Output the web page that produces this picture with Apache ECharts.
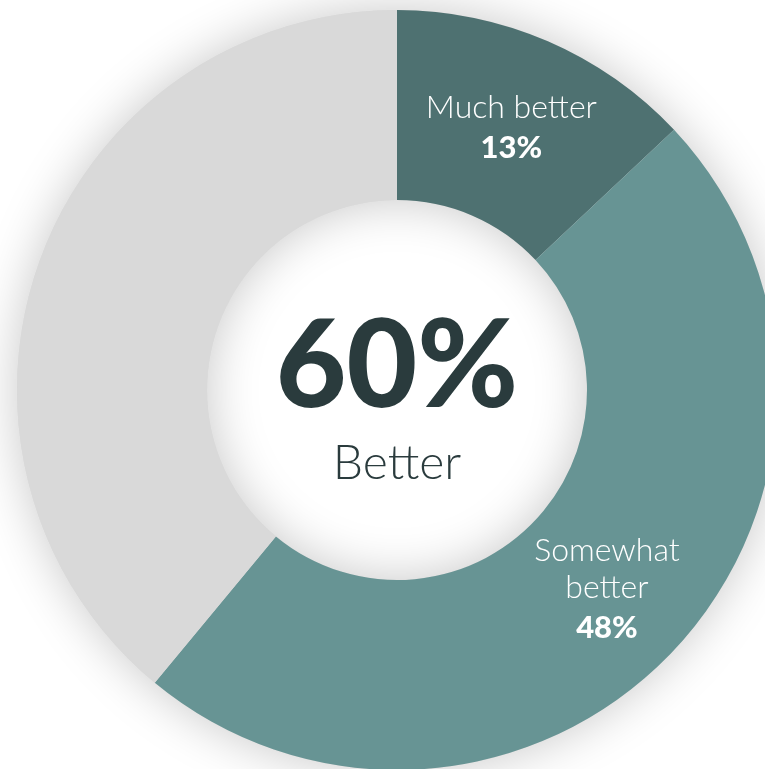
<!DOCTYPE html>
<html>
<head>
<meta charset="utf-8">
<style>
  html, body { margin: 0; padding: 0; background: #ffffff; }
  #chart { width: 765px; height: 769px; }
</style>
<script src="https://cdn.jsdelivr.net/npm/echarts@6/dist/echarts.min.js"></script>
</head>
<body>
<div id="chart"></div>
<script>
// Survey answer shares (percent)
const categories = ['Much better', 'Somewhat\nbetter', 'Not better'];
const values = [13, 48, 39];
const sliceColors = ['#4e7171', '#679494', '#d9d9d9'];
const showLabel = [true, true, false];

// Headline in the hole
const headlineValue = '60%';
const headlineText = 'Better';

const FONT = 'Lato, "Noto Sans", sans-serif';
const chart = echarts.init(document.getElementById('chart'), null, { renderer: 'canvas' });

const pieData = categories.map((name, i) => ({
  name: name,
  value: values[i],
  itemStyle: { color: sliceColors[i] },
  label: { show: showLabel[i] }
}));

chart.setOption({
  backgroundColor: '#ffffff',
  animation: false,
  series: [
    {
      // soft shadow ring underneath the slices
      type: 'pie',
      center: [397, 390],
      radius: [190, 380],
      silent: true,
      z: 1,
      label: { show: false },
      labelLine: { show: false },
      itemStyle: {
        color: '#d9d9d9',
        shadowBlur: 50,
        shadowColor: 'rgba(0,0,0,0.22)'
      },
      data: [{ value: 1, name: '' }]
    },
    {
      type: 'pie',
      center: [397, 390],
      radius: [190, 380],
      startAngle: 90,
      clockwise: true,
      z: 2,
      silent: true,
      itemStyle: { borderWidth: 0 },
      labelLine: { show: false },
      label: {
        position: 'inside',
        color: '#ffffff',
        padding: [8, 0, 0, 0],
        formatter: p => '{n|' + p.name.split('\n').join('}\n{n|') + '}\n{v|' + p.value + '%}',
        rich: {
          n: { fontFamily: FONT, fontWeight: 300, fontSize: 32, color: '#ffffff', lineHeight: 37 },
          v: { fontFamily: FONT, fontWeight: 900, fontSize: 31, color: '#ffffff', lineHeight: 43 }
        }
      },
      data: pieData
    }
  ],
  graphic: [
    {
      type: 'text', x: 397, y: 368, z: 100,
      style: {
        text: headlineValue, fill: '#2a3b3d',
        font: '900 122px ' + FONT,
        textAlign: 'center', textVerticalAlign: 'middle'
      }
    },
    {
      type: 'text', x: 397, y: 464, z: 100,
      style: {
        text: headlineText, fill: '#2a3b3d',
        font: '300 48px ' + FONT,
        textAlign: 'center', textVerticalAlign: 'middle'
      }
    }
  ]
});
</script>
</body>
</html>
